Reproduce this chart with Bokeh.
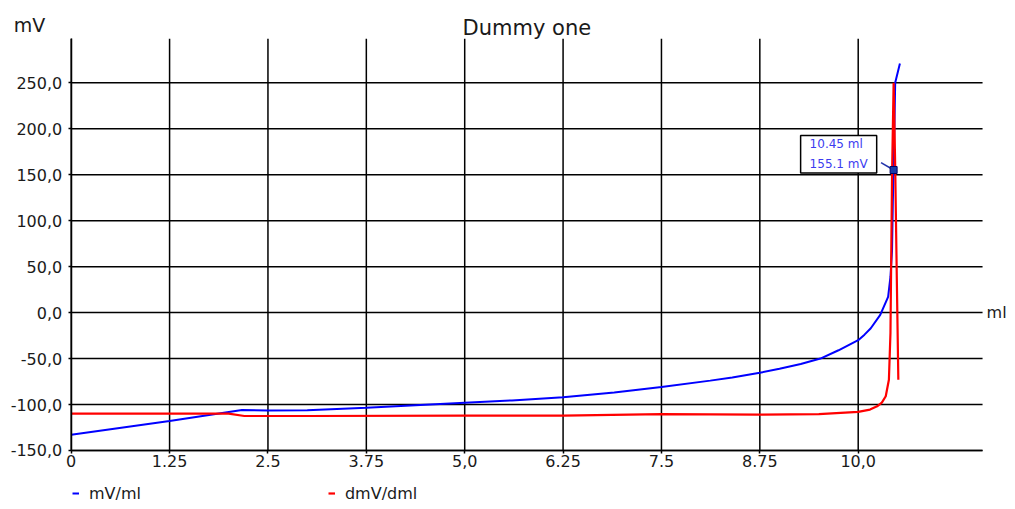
from bokeh.plotting import figure
from bokeh.models import Range1d, FixedTicker, Label, Legend
from bokeh.embed import file_html
from bokeh.resources import INLINE

# ---- data ----
blue_x = [0, 1.25, 2.17, 2.5, 3.0, 3.75, 5.0, 5.6, 6.25, 6.9, 7.5, 8.12, 8.4, 8.75, 9.0, 9.27,
          9.52, 9.75, 10.0, 10.08, 10.16, 10.28, 10.38, 10.41, 10.43, 10.44, 10.45, 10.47, 10.53]
blue_y = [-133, -118, -106, -106.5, -106.3, -103.4, -98, -95.5, -92, -87, -81, -74, -70.5, -65.5,
          -61, -56, -50, -41, -30, -24, -17, -2.5, 17, 39, 68, 120, 155.1, 250, 271]

red_x = [0, 2.0, 2.2, 3.0, 5.0, 6.25, 7.5, 8.75, 9.5, 10.0, 10.15, 10.24, 10.3,
         10.35, 10.39, 10.41, 10.43, 10.45, 10.47, 10.49, 10.51]
red_y = [-110, -110, -112.5, -112.5, -112, -112, -110.5, -111, -110.5, -108, -105.5, -102, -98,
         -91, -73, -22, 150, 250, 160, 40, -73]

x_ticks = [0, 1.25, 2.5, 3.75, 5.0, 6.25, 7.5, 8.75, 10.0]
x_tick_labels = ["0", "1.25", "2.5", "3.75", "5,0", "6.25", "7.5", "8.75", "10,0"]
y_ticks = [-150, -100, -50, 0, 50, 100, 150, 200, 250]
y_tick_labels = ["-150,0", "-100,0", "-50,0", "0,0", "50,0", "100,0", "150,0", "200,0", "250,0"]

marker_x = [10.45]
marker_y = [155.1]
marker_text = "10.45 ml\n155.1 mV"

title = "Dummy one"
series_names = ["mV/ml", "dmV/dml"]
x_unit = "ml"
y_unit = "mV"

# plotted (gridded) area
X_MIN, X_MAX = 0, 11.58
Y_MIN, Y_MAX = -150, 298
# the frame covers the whole canvas; the axes are pinned inside it
VIEW_X = (-0.8984, 11.897)
VIEW_Y = (-205.5, 339.5)

FONT = "DejaVu Sans"
TXT = "#1a1a1a"

p = figure(width=1007, height=501, output_backend="svg", toolbar_location=None,
           x_range=Range1d(*VIEW_X), y_range=Range1d(*VIEW_Y),
           min_border=0)
p.outline_line_color = None
p.background_fill_color = "white"
p.xgrid.visible = False
p.ygrid.visible = False

xa = p.xaxis[0]
ya = p.yaxis[0]
xa.fixed_location = Y_MIN
ya.fixed_location = X_MIN
xa.bounds = (X_MIN, X_MAX)
ya.bounds = (Y_MIN, Y_MAX)
xa.ticker = FixedTicker(ticks=x_ticks)
xa.major_label_overrides = {t: l for t, l in zip(x_ticks, x_tick_labels)}
ya.ticker = FixedTicker(ticks=y_ticks)
ya.major_label_overrides = {t: l for t, l in zip(y_ticks, y_tick_labels)}
for ax in (xa, ya):
    ax.axis_line_color = "black"
    ax.axis_line_width = 1.5
    ax.major_tick_line_color = "black"
    ax.major_tick_line_width = 1.5
    ax.major_tick_in = 0
    ax.major_tick_out = 3
    ax.minor_tick_line_color = None
    ax.major_label_text_font = FONT
    ax.major_label_text_font_size = "16px"
    ax.major_label_text_color = TXT
xa.major_label_standoff = 2
ya.major_label_standoff = 6

# grid lines, limited to the plotted area
nx, ny = len(x_ticks), len(y_ticks)
p.segment(x0=x_ticks, y0=[Y_MIN] * nx, x1=x_ticks, y1=[Y_MAX] * nx,
          line_color="black", line_width=1.5)
p.segment(x0=[X_MIN] * ny, y0=y_ticks, x1=[X_MAX] * ny, y1=y_ticks,
          line_color="black", line_width=1.5)

r1 = p.line(blue_x, blue_y, line_color="#0000ff", line_width=2)
r2 = p.line(red_x, red_y, line_color="#ff0000", line_width=2.2)

# marker and its callout
mx, my = marker_x[0], marker_y[0]
p.segment(x0=[mx - 0.16], y0=[my + 8], x1=[mx], y1=[my], line_color="#2233aa", line_width=1.5)
p.scatter(marker_x, marker_y, marker="square", size=7, fill_color="#1a3aa8", line_color="#000066")
p.add_layout(Label(x=mx, y=my, x_offset=-93, y_offset=-3, text=marker_text,
                   text_align="left", text_baseline="bottom",
                   text_font=FONT, text_font_size="12px", text_color="#3c3cf0",
                   text_line_height=1.4,
                   border_line_color="black", border_line_width=1.5,
                   background_fill_color="white", padding=(9, 2)))

# title and unit labels
p.add_layout(Label(x=(X_MIN + X_MAX) / 2, y=Y_MAX, y_offset=11, text=title,
                   text_align="center", text_baseline="middle",
                   text_font=FONT, text_font_size="21px", text_color=TXT))
p.add_layout(Label(x=X_MIN, y=Y_MAX, x_offset=-57.5, y_offset=14, text=y_unit,
                   text_align="left", text_baseline="middle",
                   text_font=FONT, text_font_size="19px", text_color=TXT))
p.add_layout(Label(x=X_MAX, y=0, x_offset=4, text=x_unit,
                   text_align="left", text_baseline="middle",
                   text_font=FONT, text_font_size="16px", text_color=TXT))

legend = Legend(items=[(series_names[0], [r1]), (series_names[1], [r2])],
                orientation="horizontal", location=(72, -2),
                margin=0, padding=0, spacing=187, glyph_width=7, label_standoff=10,
                label_text_font=FONT, label_text_font_size="16px", label_text_color=TXT,
                background_fill_alpha=0, border_line_color=None)
p.add_layout(legend)

open("out.html", "w").write(file_html(p, INLINE))
